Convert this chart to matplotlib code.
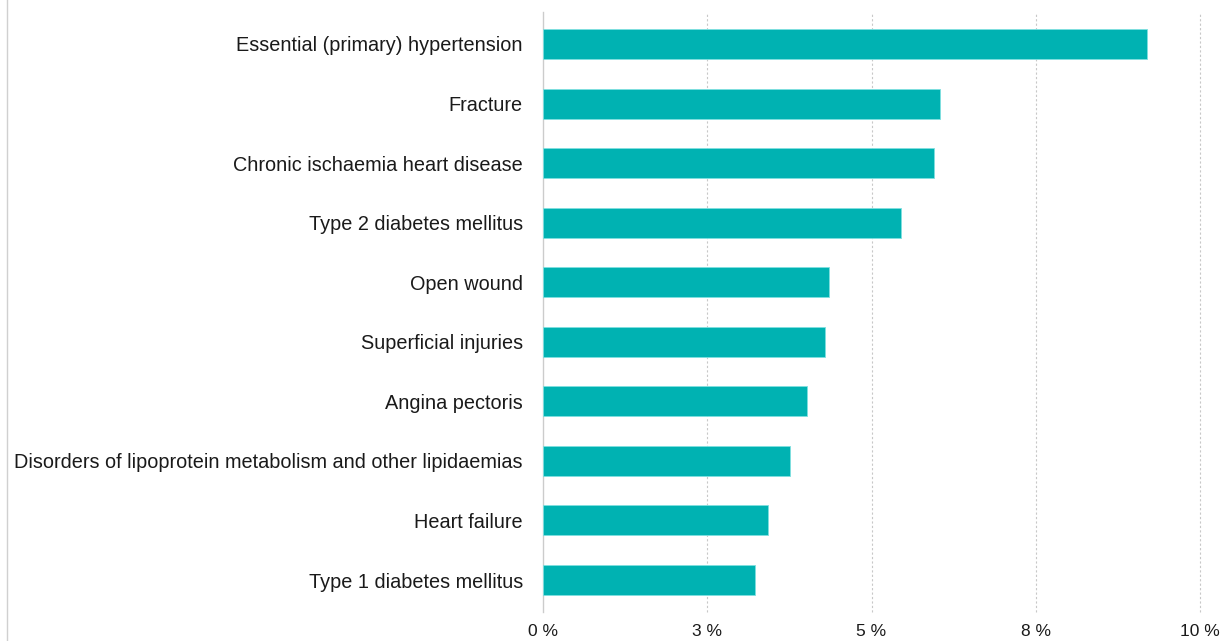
import matplotlib
matplotlib.use("Agg")
import matplotlib.pyplot as plt
from matplotlib.lines import Line2D

categories = [
    "Essential (primary) hypertension",
    "Fracture",
    "Chronic ischaemia heart disease",
    "Type 2 diabetes mellitus",
    "Open wound",
    "Superficial injuries",
    "Angina pectoris",
    "Disorders of lipoprotein metabolism and other lipidaemias",
    "Heart failure",
    "Type 1 diabetes mellitus",
]
values = [9.19, 6.04, 5.95, 5.45, 4.35, 4.29, 4.02, 3.76, 3.42, 3.23]
tick_values = [0, 2.5, 5, 7.5, 10]
tick_labels = ["0 %", "3 %", "5 %", "8 %", "10 %"]

plt.rcParams['font.family'] = ['Liberation Sans', 'DejaVu Sans']

fig = plt.figure(figsize=(12.31, 6.41), dpi=100)
ax = fig.add_axes([543/1231, 1-612/641, (1200-543)/1231, 600/641])

y = list(range(len(categories)))
ax.barh(y, values, height=0.504, color="#00B2B2", edgecolor="#7fe0e0", linewidth=0.6, zorder=3)
ax.set_ylim(9.537, -0.537)
ax.set_xlim(0, 10)
ax.set_yticks(y)
ax.set_yticklabels(categories, fontsize=14.3, color="#1a1a1a")
ax.set_xticks(tick_values)
ax.set_xticklabels(tick_labels, fontsize=12.5, color="#1a1a1a")
ax.tick_params(axis="both", length=0)
ax.tick_params(axis="y", pad=14.4)
ax.tick_params(axis="x", pad=8.5)
for s in ["top", "right", "bottom"]:
    ax.spines[s].set_visible(False)
ax.spines["left"].set_color("#cccccc")
ax.spines["left"].set_linewidth(1)
ax.xaxis.grid(True, linestyle=(0, (2, 2)), color="#c8c8c8", linewidth=0.8, zorder=0)
ax.set_axisbelow(True)
gls = ax.xaxis.get_gridlines()
gls[0].set_visible(False)
for gl in gls:
    gl.set_clip_on(False)

fig.add_artist(Line2D([7/1231, 7/1231], [0, 1], color="#d0d0d0", linewidth=1))

fig.savefig("out.png", dpi=100)
